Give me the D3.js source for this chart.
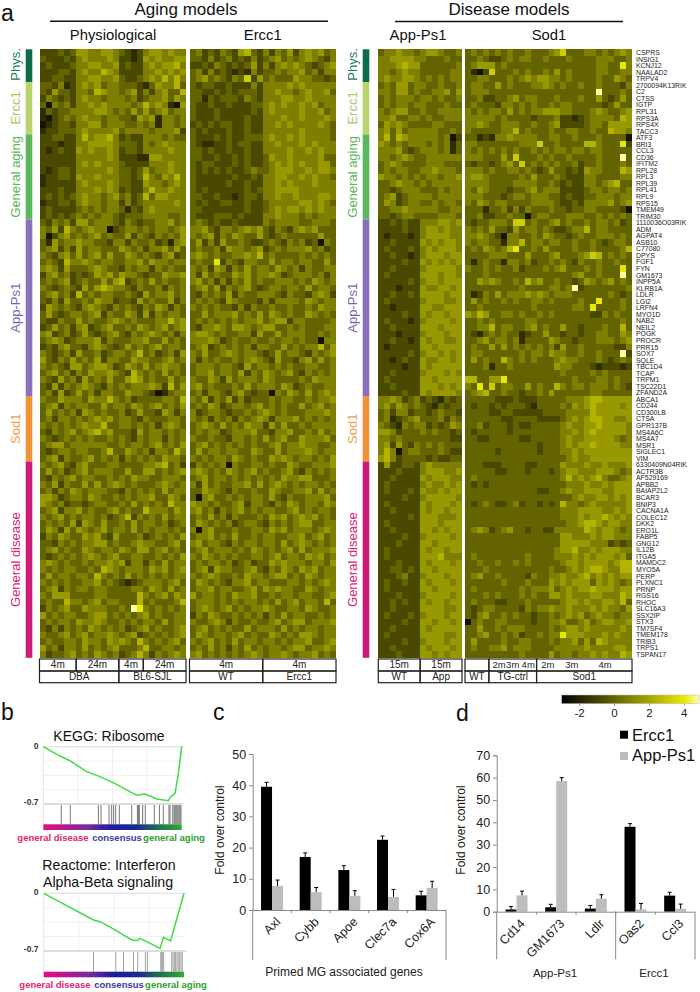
<!DOCTYPE html>
<html>
<head>
<meta charset="utf-8">
<script src="https://cdnjs.cloudflare.com/ajax/libs/d3/7.8.5/d3.min.js"></script>
<style>
  body { margin: 0; background: #fff; }
  text { font-family: "Liberation Sans", Arial, sans-serif; }
</style>
</head>
<body>
<div id="vis"></div>
<script>
var genes = ['CSPRS','INSIG1','KCNJ12','NAALAD2','TRPV4','2700094K13RIK','C2','CTSS','IGTP','RPL31','RPS3A','RPS4X','TACC3','ATF3','BRI3','CCL3','CD36','IFITM2','RPL28','RPL3','RPL39','RPL41','RPL9','RPS15','TMEM49','TRIM30','1110036O03RIK','ADM','AGPAT4','ASB10','C77080','DPYS','FGF1','FYN','GM1673','INPP5A','KLRB1A','LDLR','LGI2','LRFN4','MYO1D','NAB2','NEIL2','POGK','PROCR','PRR15','SOX7','SQLE','TBC1D4','TCAP','TRPM1','TSC22D1','ZFAND2A','ABCA1','CD244','CD300LB','CTSA','GPR137B','MS4A6C','MS4A7','MSR1','SIGLEC1','VIM','6330409N04RIK','ACTR3B','AF529169','APBB2','BAIAP2L2','BCAR3','BNIP3','CACNA1A','COLEC12','DKK2','ERO1L','FABP5','GNG12','IL12B','ITGA5','MAMDC2','MYO5A','PERP','PLXNC1','PRNP','RGS16','RHOC','SLC16A3','SSX2IP','STX3','TM7SF4','TMEM178','TRIB3','TRPS1','TSPAN17'];

// one digit per cell. digit -> z = (d - 3) * 0.8
var physRows = [
'222323 5544554 3212 4554544','322232 4544454 2212 5454455','232223 4455445 2322 4545564','222332 4544654 2222 4454545','223322 4455445 3223 4546464',
'332412 4545344 3332 1354463','325332 4436544 3452 4245336','243232 4544344 4342 3445354','304342 4454544 4434 6454105','132334 4445543 4353 5345344',
'102343 4544344 3325 4514434','012332 4455344 4334 3414434','122333 4544445 3444 4344452','223322 4645564 2322 4443433','222122 4455554 3332 4345444',
'212322 5454454 2332 4444544','222222 4444454 2221 1554444','222222 4545444 3222 2444544','212332 4444454 3323 5344544','122332 5445444 3323 6435464',
'122222 4544454 3322 5443454','222322 4445454 2322 4644544','232323 4544345 3423 6355444','122332 4544344 2423 4444454','232222 3434344 3132 4544444',
'232323 4343443 2333 4444334','324342 5534443 2432 3344534','435264 3454402 3443 4344345','402453 4345343 3524 3243435','315344 5443324 4243 3423145',
'345242 5344333 5434 2445353','432453 5345353 3543 4324523','343264 4543443 3445 3544344','454253 3345433 2434 4243433','245342 3235453 5443 2335445',
'343452 3433535 6234 3534334','432343 2535654 4324 3342434','345342 6343443 3432 5344534','324253 3435442 3325 3433524','254343 2454324 3432 4354243',
'353234 4345243 3542 5243443','322433 5343345 4343 3344645','235342 4523453 3435 4345345','452342 3532345 3243 4543424','345423 4445243 3344 5335343',
'232453 3245432 3534 3453443','432342 5334234 4346 3423425','532435 3435244 3354 4334534','434325 5345542 3543 5345443','345342 4354454 3264 3435343',
'432534 2534353 3565 3433534','325243 4543243 4344 4542635','342523 5342443 3544 3201344','433544 4354464 3423 3334436','345243 4433534 4354 3453435',
'353434 2543433 4235 3325424','342443 4345453 4432 4333443','434343 4544633 4434 3424543','324345 3456453 3325 3443434','432343 4343343 4324 3442434',
'345534 4444433 4344 3453435','323443 4433463 3543 4244364','345243 3453434 2434 3435443','434532 4533344 3333 4456342','353423 4534443 3533 5534345',
'324345 3443343 4354 4334443','435243 3535345 4343 3345434','342435 4344433 2434 3435344','554234 4354334 3434 4533543','543423 3234433 4353 4343644',
'345244 5343345 3433 6444354','434534 3443423 4624 3435344','343435 2543533 4353 4434234','354253 5434534 4353 4344343','243543 3545325 3334 2343435',
'332434 3445534 3345 4433453','345343 3543443 5435 5345343','323434 3454345 3344 3343435','454343 3434454 5244 2435344','434344 3343654 3444 3545345',
'353443 4436434 3534 3434344','434343 3445343 2123 4443453','345243 4434433 3344 3543534','435553 3334433 3336 4345354','343364 4345344 3336 3433346',
'243453 3544433 4398 4343434','534344 3345534 3434 5343344','343443 5445433 4343 4435344','324243 4354343 4234 5343345','433453 4534454 3452 3434345',
'343344 3544354 5436 4343453','534244 3534345 3334 6334434','423345 3435434 2346 4243454'
];
var ercc1Rows = [
'342324 325632 424352 454534','332423 423242 345343 454324','223243 232352 424545 432345','342423 212142 334344 534244','345343 243725 343335 443323',
'323322 322242 444454 544444','332232 323332 445443 454453','331323 332432 444554 454444','322322 322233 454544 545344','322232 222232 454444 544534',
'322232 222322 444544 544454','232323 322322 445454 444543','323222 322322 444444 544443','322232 322333 454454 544443','321122 323322 445444 545444',
'332322 322322 444454 454544','332232 232322 354454 444533','323322 232322 345454 544553','323232 322343 345554 454554','322222 232232 445544 545443',
'322222 322322 445454 445444','323222 222323 445555 444444','332232 212332 445445 444554','323223 322322 344444 554543','332222 222322 345455 454544',
'322233 323222 445444 343444','343232 232222 434444 334443','445324 434545 324324 545333','434524 354335 323433 333533','352425 334322 343243 423043',
'343342 544345 234344 453423','454343 344546 343333 434343','343382 432443 353443 443353','434254 243534 435434 243344','425343 354534 454234 443424',
'453424 243534 334443 435434','345352 434532 344344 353443','324343 524334 443243 324542','343432 543332 424444 354344','434343 324243 343343 343544',
'335344 453435 354343 354343','343434 343445 345524 433334','324454 355434 553343 433344','455434 334425 335344 433434','444542 343343 343443 433044',
'345234 343424 433534 344635','435334 543443 235344 324345','424343 343454 325332 453534','344434 432534 434343 344334','344534 435243 543453 243434',
'433542 534443 543333 435444','453433 343534 443542 343344','342443 245323 304354 353454','435243 524233 343443 343445','343542 344345 343433 534534',
'423443 233434 543433 344454','434243 424345 424445 343434','345435 343544 253533 434444','343442 344453 324453 343534','433433 244343 534533 544453',
'345343 434343 345344 544334','353443 443354 335344 454344','434344 354343 354543 443435','243434 043344 343354 334445','454343 543453 433453 243434',
'345344 343434 343544 553334','425343 344535 345434 344343','335443 243343 354334 453534','304533 434344 353243 344453','544343 345244 324354 344354',
'453424 345343 443345 343443','343534 243334 354534 545343','354343 423443 243434 553344','404533 343344 354534 443454','344534 353343 443344 534534',
'453443 243443 443534 543434','345344 434354 343453 534445','435434 343344 345344 354534','343443 423423 354544 434435','345254 433453 243543 545344',
'434543 343544 345534 354344','354343 244534 433344 343454','344534 433453 545443 354344','534434 354453 343443 443345','344434 343443 435345 344363',
'345434 534344 543344 354334','243543 343434 243534 433434','433454 243343 345345 534445','345343 433534 443534 344344','354344 345343 354343 554344',
'434534 353443 443434 453345','343534 243534 344345 534454','453434 343454 344543 445343'
];
var appRows = [
'3445443 4554334','4455554 4333433','4445655 3333334','4434544 3333344','4544554 3434344',
'3435534 4334334','4435534 3344535','3434443 4434334','3434434 4333433','4345533 4334444',
'4453344 3433444','3545433 3344333','4535344 4443343','4636544 4443402','5434344 4343413',
'4445323 4443413','4434543 3444444','3454333 3444333','3434433 4454443','5443434 3443445',
'3345443 4344444','3323444 3334344','3452344 4434444','3542344 3343443','3344544 4443344',
'3323443 3334443','2232322 4445545','2222322 4554544','2122212 4555544','2232222 5454554',
'2322232 4545554','2232212 4555455','2222322 5454545','2232222 4555554','2322222 5554554',
'2222232 4554555','2221222 5445545','2232232 5555455','2322222 4555445','2212222 5544555',
'2222322 5455455','2322212 4555545','2232222 5554555','2221222 4555455','2232212 5455445',
'2122222 5545555','2222232 4554545','2212322 5445545','2222122 5455555','2232222 4555454',
'2322222 5545555','2232222 5554545','2222322 5455554','4454234 2321323','4535434 3213233',
'3424423 3234332','3412345 3334243','4321434 4232354','5542333 4343323','4434333 3333322',
'4525324 3434333','4640344 3334322','5642333 3232233','2522332 4544444','2223222 4555445',
'2232222 5455544','2322222 4544545','2322232 5445455','2222322 4555554','2322222 5455545',
'2232222 5455455','2222232 5554445','2322222 5554555','2232222 5545455','2222322 4555545',
'2223222 5545555','2322222 5455455','2322222 5556444','2223222 5455545','2233232 5545555',
'2223422 4555455','2322322 5455545','2322222 5545555','2223222 4555545','2232322 5455455',
'2232222 5555445','2322232 4555455','2222322 5545545','2232222 5455555','2322222 5555445',
'2222322 4555455','2232222 5455545','2223222 5545455'
];
var sod1Rows = [
'3434 3434 3343 3345 7333 4434 3454','3343 2234 3443 3433 3433 3344 4334','3455 5343 3333 3333 3333 3344 3384','3102 7333 4343 3435 3433 3344 3344','3344 3334 3454 5544 3433 3343 3543',
'3443 3534 3334 4543 4334 3343 3324','3444 3333 3333 3333 3333 3393 3343','3342 2334 5344 3334 3334 3353 2353','3433 3244 3434 3343 4433 3332 3533','4343 4435 3434 4555 4433 3454 3345',
'4444 4343 3332 3334 2212 3444 4365','4454 3344 4334 3345 2222 3443 5555','4333 3344 6343 3343 3443 3433 6554','3312 1445 4444 3344 3343 3343 3330','4433 3333 3444 7334 3333 6643 3382',
'4343 4343 4334 3434 4344 3443 3333','4443 3353 7333 4343 3433 3343 3393','3233 2345 3734 3434 3342 3343 3343','4443 4334 4343 2353 3232 5443 3365','4554 3333 3435 3334 3222 4433 3344',
'4444 3333 4444 3343 2322 4434 5633','4354 3332 3345 3444 2222 3443 4434','4443 3323 4434 4433 2322 3344 4344','4354 3443 3334 4443 2232 4444 5345','3331 3342 4243 3343 3233 4433 3320',
'3342 2334 3303 4433 3444 3343 4343','3233 4443 7734 3345 3433 4344 3423','4343 5332 5344 3432 2344 6344 3333','4454 3204 4334 3543 3234 3344 4343','4344 3314 4634 4344 3343 3432 3443',
'3435 4346 8334 3533 3343 3433 3346','3333 4443 3353 3345 3334 5763 4343','3134 3314 4342 3343 4324 3343 3433','4334 3433 4233 3434 5333 4343 3383','3334 3333 3333 3333 3345 3343 3393',
'3354 5433 4364 5334 3323 5434 5343','3333 3333 3433 3344 3492 3333 3334','3124 3534 4454 5434 4433 3333 4323','3534 3343 4334 4343 3334 3383 3343','3343 3333 3334 3333 3344 3833 3343',
'5465 3344 3433 4343 3333 3224 3433','3343 4333 3344 3333 3333 3333 3343','3344 6344 3345 3433 5332 3334 3363','3213 4343 3123 3533 2332 3344 3354','3345 3443 4133 3354 3323 3344 4345',
'3433 5353 4343 4342 5334 3333 3224','3443 3333 3434 4354 4334 3343 3392','3534 3364 3434 3334 5443 3343 2343','3334 1334 3333 3335 4433 3212 2212','3333 3333 3333 3333 4333 3434 3333',
'6633 5583 3333 3333 3343 3344 3433','4383 7344 3353 4336 4344 3444 3432','3456 3343 3233 4353 3333 3443 3333','3333 3222 3222 3333 3444 5665 5555','3233 2323 3321 3333 4354 5655 5545',
'3333 2233 2222 2333 3444 4655 5555','3333 3322 3333 2222 3454 5665 5445','3342 3332 3223 3333 4544 5565 5554','3233 3332 3333 3333 4454 5655 5554','3322 3333 3223 3333 4544 5555 5434',
'3333 3333 3333 2333 4545 5655 5544','3333 3233 3333 2333 4454 5555 5555','3333 3333 3333 3333 3454 4555 5555','3332 2233 3322 3333 5444 5445 4445','3333 3223 3323 3323 4554 4455 5434',
'3433 3333 3333 3333 4645 4564 3345','3232 3333 3333 3333 3444 5445 4555','3333 3333 3333 2233 4544 5554 4555','3333 3333 3333 3333 3345 4455 4545','3234 3223 4233 2323 6443 4544 4445',
'3333 3333 3333 3333 4445 5554 4545','3333 3333 3333 3333 4445 4556 5454','3333 3333 3333 3333 3445 6654 5544','3454 2345 3323 3224 4444 6545 5434','3333 3333 3333 3333 5544 4545 5444',
'3333 3333 3333 3333 5555 5444 2323','3333 3333 3333 3334 5564 4545 5544','3433 3333 3343 3334 4454 5455 5453','3343 3433 4343 3333 4554 5555 4566','3334 3333 3333 3343 3454 5665 4466',
'3453 3433 3324 3344 5445 6454 5455','3333 3343 3343 3354 5455 5354 5434','3433 3333 3434 4453 4545 5655 5455','3334 3433 3434 3355 4544 4554 4465','3433 3223 3343 3333 4554 5445 5463',
'3234 4333 3243 4454 4544 4545 4435','3245 3343 4332 3343 4545 3454 4344','0343 3443 3332 3344 5334 5345 5445','3353 3434 4433 3343 4554 5444 4454','3345 3343 4233 4344 8555 4445 4544',
'3533 3343 3443 3343 4453 5365 4444','3433 4453 4443 3334 4444 5444 4554','3333 3333 3433 3353 4434 4545 4465'
];

var physTop = [['4m', 6], ['24m', 7], ['4m', 4], ['24m', 7]];
var physBottom = [['DBA', 13], ['BL6-SJL', 11]];
var ercc1Top = [['4m', 12], ['4m', 12]];
var ercc1Bottom = [['WT', 12], ['Ercc1', 12]];
var appTop = [['15m', 7], ['15m', 7]];
var appBottom = [['WT', 7], ['App', 7]];
var sod1Top = [['', 4], ['', 8], ['', 16]];
var sod1Bottom = [['WT', 4], ['TG-ctrl', 8], ['Sod1', 16]];
var sod1Ages = [['2m', 5.7], ['3m', 8], ['4m', 10.6], ['2m', 13.9], ['3m', 17.9], ['4m', 23.5]];

var sideGroups = ['Phys.', 'Ercc1', 'General aging', 'App-Ps1', 'Sod1', 'General disease'];
var sideCounts = [5, 8, 13, 27, 10, 30];
var sideColors = ['#0b6b4a', '#b9d36e', '#5cb85c', '#8a6fbb', '#f0923a', '#cc1a78'];
var sideText = ['#1a7a5a', '#a9c96a', '#5ab55a', '#7b64b6', '#f2a050', '#d6217e'];

var cGenes = ['Axl', 'Cybb', 'Apoe', 'Clec7a', 'Cox6A'];
var cErcc1 = [39.5, 17, 12.8, 22.5, 4.7];
var cErcc1Err = [1.4, 1.3, 1.4, 1.2, 1.3];
var cApp = [7.7, 5.7, 4.5, 4.2, 7.1];
var cAppErr = [1.9, 1.5, 1.7, 2.4, 2.1];

var dGenes = ['Cd14', 'GM1673', 'Ldlr', 'Oas2', 'Ccl3'];
var dErcc1 = [1, 2, 1.4, 38, 7.2];
var dErcc1Err = [1.3, 1.3, 1.4, 1.4, 1.5];
var dApp = [7.3, 58.5, 5.8, 1, 1.3];
var dAppErr = [1.9, 1.5, 1.8, 2.7, 2.1];

var kegg = [[0, 0], [12, -0.114], [19.3, -0.171], [31.3, -0.305], [41, -0.366], [53, -0.46], [63.9, -0.562], [67.5, -0.594], [73.5, -0.578], [77, -0.602], [82, -0.639], [90.4, -0.659], [92, -0.61], [95.2, -0.57], [97.6, -0.326], [100, 0]];
var keggHits = [13, 19.5, 39.8, 41.7, 47.5, 49.4, 50.8, 52.3, 54.9, 63.9, 68, 68.7, 69.4, 71.8, 73.7, 80.2, 83.9, 86.7, 90.8, 91.6, 93.5, 94.5, 95.2, 95.9, 96.6, 97.3, 98.1, 98.8, 99.5];
var reactome = [[0, 0], [35.5, -0.324], [40.3, -0.344], [52, -0.457], [62.8, -0.566], [66.8, -0.575], [68.2, -0.546], [73.5, -0.587], [83, -0.668], [85.3, -0.534], [90.5, -0.579], [93.6, -0.384], [100, 0]];
var reactomeHits = [35.5, 51.4, 56.9, 64, 67, 72.5, 73.9, 83.4, 84.1, 84.8, 85.5, 91.2, 92.2, 93.1, 94, 95, 95.9, 96.9, 97.9, 98.8];

var width = 700;
var height = 992;
var svg = d3.select('#vis').append('svg').attr('width', width).attr('height', height);
var defs = svg.append('defs');

var heatColor = d3.scaleLinear().domain([-3, 4, 4.87]).range(['#000000', '#e8e800', '#ffffb0']);
var rowScale = d3.scaleBand().domain(d3.range(genes.length)).range([49.3, 657.8]);

function addText(str, x, y, size, opts) {
  opts = opts || {};
  return svg.append('text')
    .attr('x', x)
    .attr('y', y)
    .attr('font-size', size)
    .attr('text-anchor', opts.anchor || 'middle')
    .attr('fill', opts.fill || '#111')
    .attr('font-weight', opts.weight || null)
    .text(str);
}

function drawHeat(rows, x0, x1) {
  var cells = rows.map(function (r) { return r.replace(/ /g, ''); });
  var x = d3.scaleBand().domain(d3.range(cells[0].length)).range([x0, x1]);
  var g = svg.append('g').attr('shape-rendering', 'crispEdges').style('filter', 'blur(0.35px)');
  cells.forEach(function (row, i) {
    g.selectAll(null)
      .data(row.split(''))
      .enter()
      .append('rect')
      .attr('x', function (d, j) { return x(j); })
      .attr('y', rowScale(i))
      .attr('width', x.bandwidth() + 0.3)
      .attr('height', rowScale.bandwidth() + 0.3)
      .attr('fill', function (d) { return heatColor((+d - 3) * 0.8); });
  });
  return x;
}

function annotRow(x, cellsDef, y0, y1) {
  var at = 0;
  cellsDef.forEach(function (c) {
    var a = x(at);
    var b = at + c[1] >= x.domain().length ? x.range()[1] : x(at + c[1]);
    svg.append('rect')
      .attr('x', a).attr('y', y0).attr('width', b - a).attr('height', y1 - y0)
      .attr('fill', 'none').attr('stroke', '#222').attr('stroke-width', 1.2);
    if (c[0]) addText(c[0], (a + b) / 2, y1 - 2.6, 10, { fill: '#222' });
    at += c[1];
  });
}

var xPhys = drawHeat(physRows, 39.5, 186);
var xErcc1 = drawHeat(ercc1Rows, 189.5, 336);
var xApp = drawHeat(appRows, 378.3, 462);
var xSod1 = drawHeat(sod1Rows, 465, 632);

annotRow(xPhys, physTop, 659, 671); annotRow(xPhys, physBottom, 671, 682.7);
annotRow(xErcc1, ercc1Top, 659, 671); annotRow(xErcc1, ercc1Bottom, 671, 682.7);
annotRow(xApp, appTop, 659, 671); annotRow(xApp, appBottom, 671, 682.7);
annotRow(xSod1, sod1Top, 659, 671); annotRow(xSod1, sod1Bottom, 671, 682.7);
sod1Ages.forEach(function (a) { addText(a[0], xSod1(0) + a[1] * xSod1.bandwidth(), 668.4, 9.5, { fill: '#222' }); });

// side colour bars, twice
function drawSide(x0, labelX) {
  var at = 0;
  sideGroups.forEach(function (name, i) {
    var top = rowScale(at);
    var n = sideCounts[i];
    var bottom = top + n * rowScale.bandwidth();
    svg.append('rect').attr('x', x0).attr('y', top).attr('width', 6.6).attr('height', bottom - top).attr('fill', sideColors[i]);
    var mid = (top + bottom) / 2;
    if (i === 0) mid = 64.5;
    if (i === 1) mid = 108;
    svg.append('text')
      .attr('transform', 'translate(' + labelX + ',' + mid + ') rotate(-90)')
      .attr('text-anchor', 'middle')
      .attr('font-size', 13)
      .attr('fill', sideText[i])
      .text(name);
    at += n;
  });
}
drawSide(25.7, 19.5);
drawSide(362.7, 357);

svg.append('g').selectAll('text')
  .data(genes)
  .enter()
  .append('text')
  .attr('x', 636)
  .attr('y', function (d, i) { return rowScale(i) + rowScale.bandwidth() / 2 + 2.5; })
  .attr('font-size', 6.9)
  .attr('fill', '#222')
  .text(function (d) { return d; });

// headers
addText('Aging models', 186, 15, 17);
addText('Disease models', 509, 15, 17);
svg.append('line').attr('x1', 50).attr('x2', 328).attr('y1', 21.3).attr('y2', 21.3).attr('stroke', '#111').attr('stroke-width', 1.6);
svg.append('line').attr('x1', 395).attr('x2', 623).attr('y1', 21.5).attr('y2', 21.5).attr('stroke', '#111').attr('stroke-width', 1.6);
addText('Physiological', 113, 39.5, 14.8);
addText('Ercc1', 262.7, 39.5, 14.8);
addText('App-Ps1', 418, 39.5, 14.8);
addText('Sod1', 549, 39.5, 14.8);

addText('a', 1, 21, 23, { anchor: 'start' });
addText('b', 1, 720, 23, { anchor: 'start' });
addText('c', 213, 720, 23, { anchor: 'start' });
addText('d', 456, 721, 23, { anchor: 'start' });

// colour key
var keyScale = d3.scaleLinear().domain([-3, 4.87]).range([561.7, 699]);
var keyGrad = defs.append('linearGradient').attr('id', 'keyGrad');
keyGrad.selectAll('stop')
  .data([-3, 4, 4.87])
  .enter()
  .append('stop')
  .attr('offset', function (d) { return (d + 3) / 7.87; })
  .attr('stop-color', function (d) { return heatColor(d); });
svg.append('rect').attr('x', 561.7).attr('y', 695).attr('width', 137.3).attr('height', 8.7).attr('fill', 'url(#keyGrad)').attr('stroke', '#bbb').attr('stroke-width', 0.5);
var keyAxis = svg.append('g')
  .attr('transform', 'translate(0,703.7)')
  .call(d3.axisBottom(keyScale).tickValues([-2, 0, 2, 4]).tickSize(2).tickPadding(3).tickFormat(function (d) { return d < 0 ? '-' + Math.abs(d) : d; }));
keyAxis.select('.domain').remove();
keyAxis.selectAll('line').attr('stroke', '#999');
keyAxis.selectAll('text').attr('font-size', 11.5).attr('fill', '#222').style('font-family', '"Liberation Sans", Arial, sans-serif');

// panel b
var esGrad = defs.append('linearGradient').attr('id', 'esGrad');
esGrad.append('stop').attr('offset', 0).attr('stop-color', '#ea0a85');
esGrad.append('stop').attr('offset', 0.32).attr('stop-color', '#7a2a9a');
esGrad.append('stop').attr('offset', 0.5).attr('stop-color', '#1c1c9c');
esGrad.append('stop').attr('offset', 0.68).attr('stop-color', '#1c2a90');
esGrad.append('stop').attr('offset', 0.82).attr('stop-color', '#1e6e50');
esGrad.append('stop').attr('offset', 1).attr('stop-color', '#34a838');

function drawEs(points, hits, xr, yZero, yLow, hitBottom, barH, hitColor) {
  var x = d3.scaleLinear().domain([0, 100]).range(xr);
  var y = d3.scaleLinear().domain([0, -0.7]).range([yZero, yLow]);
  var g = svg.append('g');
  [25, 50, 75].forEach(function (v) {
    g.append('line').attr('x1', x(v)).attr('x2', x(v)).attr('y1', yZero).attr('y2', yLow).attr('stroke', '#f0f0f0');
  });
  [-0.175, -0.35, -0.525].forEach(function (v) {
    g.append('line').attr('x1', xr[0]).attr('x2', xr[1]).attr('y1', y(v)).attr('y2', y(v)).attr('stroke', '#f0f0f0');
  });
  g.append('line').attr('x1', xr[0]).attr('x2', xr[1] + 2).attr('y1', y(0)).attr('y2', y(0)).attr('stroke', '#ddd');
  g.append('line').attr('x1', xr[0]).attr('x2', xr[1] + 2).attr('y1', y(-0.7)).attr('y2', y(-0.7)).attr('stroke', '#bbb');
  g.append('line').attr('x1', xr[0]).attr('x2', xr[0]).attr('y1', yZero).attr('y2', hitBottom).attr('stroke', '#e4e4e4');
  g.selectAll('.hit')
    .data(hits)
    .enter()
    .append('line')
    .attr('class', 'hit')
    .attr('x1', function (d) { return x(d); })
    .attr('x2', function (d) { return x(d); })
    .attr('y1', yLow + 1)
    .attr('y2', hitBottom)
    .attr('stroke', hitColor)
    .attr('stroke-width', 0.9);
  g.append('rect').attr('x', xr[0]).attr('y', hitBottom).attr('width', xr[1] - xr[0]).attr('height', barH).attr('fill', 'url(#esGrad)');
  g.append('path')
    .datum(points)
    .attr('fill', 'none')
    .attr('stroke', '#3fdc45')
    .attr('stroke-width', 1.5)
    .attr('d', d3.line().x(function (d) { return x(d[0]); }).y(function (d) { return y(d[1]); }));
  addText('0', 38.5, yZero + 2, 8.5, { anchor: 'end', fill: '#333', weight: 'bold' });
  addText('-0.7', 38.5, yLow + 1, 8.5, { anchor: 'end', fill: '#333', weight: 'bold' });
}
drawEs(kegg, keggHits, [43.3, 181.7], 746.7, 804, 824.3, 5.7, '#666');
drawEs(reactome, reactomeHits, [43.7, 184], 893.3, 951, 971.7, 5.6, '#999');

addText('KEGG: Ribosome', 109, 741, 14);
addText('Reactome: Interferon', 109, 870, 14.2);
addText('Alpha-Beta signaling', 108, 887, 14.2);

function esLabels(offset, y) {
  addText('general disease', 53 + offset, y, 9.5, { fill: '#e0266e', weight: 'bold' });
  addText('consensus', 117 + offset, y, 9.5, { fill: '#3a3a9f', weight: 'bold' });
  addText('general aging', 174 + offset, y, 9.5, { fill: '#2ca02c', weight: 'bold' });
}
esLabels(0, 841);
esLabels(2, 988);

// bar charts
function drawBars(names, black, blackErr, grey, greyErr, opts) {
  var x = d3.scaleBand().domain(names).range(opts.xr);
  var y = d3.scaleLinear().domain([0, opts.max]).range([opts.y0, opts.y1]);
  var g = svg.append('g');
  var barW = opts.barW;

  function series(vals, errs, offset, color) {
    g.selectAll(null)
      .data(vals)
      .enter()
      .append('rect')
      .attr('x', function (d, i) { return x(names[i]) + x.bandwidth() / 2 + offset; })
      .attr('y', function (d) { return y(d); })
      .attr('width', barW)
      .attr('height', function (d) { return y(0) - y(d); })
      .attr('fill', color);
    vals.forEach(function (v, i) {
      var cx = x(names[i]) + x.bandwidth() / 2 + offset + barW / 2;
      g.append('line').attr('x1', cx).attr('x2', cx).attr('y1', y(v)).attr('y2', y(v + errs[i])).attr('stroke', '#000');
      g.append('line').attr('x1', cx - 2).attr('x2', cx + 2).attr('y1', y(v + errs[i])).attr('y2', y(v + errs[i])).attr('stroke', '#000');
    });
  }
  series(black, blackErr, -barW, '#000');
  series(grey, greyErr, 0, '#bdbdbd');

  var left = g.append('g')
    .attr('transform', 'translate(' + opts.xr[0] + ',0)')
    .call(d3.axisLeft(y).ticks(opts.max / 10).tickSize(3.6).tickPadding(3));
  left.select('.domain').attr('stroke', '#888');
  left.selectAll('line').attr('stroke', '#888');
  left.selectAll('text').attr('font-size', 12.5).attr('fill', '#222').style('font-family', '"Liberation Sans", Arial, sans-serif');

  var bottom = g.append('g')
    .attr('transform', 'translate(0,' + opts.y0 + ')')
    .call(d3.axisBottom(x).tickSize(0).tickPadding(6));
  bottom.select('.domain').attr('stroke', '#888');
  bottom.selectAll('text')
    .attr('font-size', 12.5)
    .attr('fill', '#222')
    .style('font-family', '"Liberation Sans", Arial, sans-serif')
    .attr('text-anchor', 'end')
    .attr('transform', 'rotate(-45)')
    .attr('dx', '-0.2em')
    .attr('dy', '0.75em');

  names.forEach(function (n, i) {
    if (i > 0) g.append('line').attr('x1', x(n)).attr('x2', x(n)).attr('y1', opts.y0).attr('y2', opts.y0 + 3).attr('stroke', '#888');
  });
  g.append('line').attr('x1', opts.xr[0]).attr('x2', opts.xr[0]).attr('y1', opts.y0).attr('y2', opts.bottom).attr('stroke', '#888');
  g.append('line').attr('x1', opts.xr[1]).attr('x2', opts.xr[1]).attr('y1', opts.y0).attr('y2', opts.bottom).attr('stroke', '#888');
  return x;
}

drawBars(cGenes, cErcc1, cErcc1Err, cApp, cAppErr, { xr: [252.7, 446], y0: 910, y1: 754, max: 50, barW: 11, bottom: 960 });
svg.append('text').attr('transform', 'translate(224,830) rotate(-90)').attr('text-anchor', 'middle').attr('font-size', 12).attr('fill', '#222').text('Fold over control');
addText('Primed MG associated genes', 344, 976, 12, { fill: '#222' });

var xD = drawBars(dGenes, dErcc1, dErcc1Err, dApp, dAppErr, { xr: [496.7, 695], y0: 911.7, y1: 755.3, max: 70, barW: 11, bottom: 959.3 });
svg.append('line').attr('x1', xD('Oas2')).attr('x2', xD('Oas2')).attr('y1', 911.7).attr('y2', 959.3).attr('stroke', '#888');
svg.append('text').attr('transform', 'translate(465,830) rotate(-90)').attr('text-anchor', 'middle').attr('font-size', 12).attr('fill', '#222').text('Fold over control');
addText('App-Ps1', 555, 977, 11.5, { fill: '#222' });
addText('Ercc1', 654, 977, 11.5, { fill: '#222' });

svg.append('rect').attr('x', 620).attr('y', 730.7).attr('width', 8).attr('height', 8).attr('fill', '#000');
svg.append('rect').attr('x', 620).attr('y', 752).attr('width', 8).attr('height', 8).attr('fill', '#bdbdbd');
addText('Ercc1', 632, 740.7, 16.5, { anchor: 'start' });
addText('App-Ps1', 632, 761, 16.5, { anchor: 'start' });
</script>
</body>
</html>
